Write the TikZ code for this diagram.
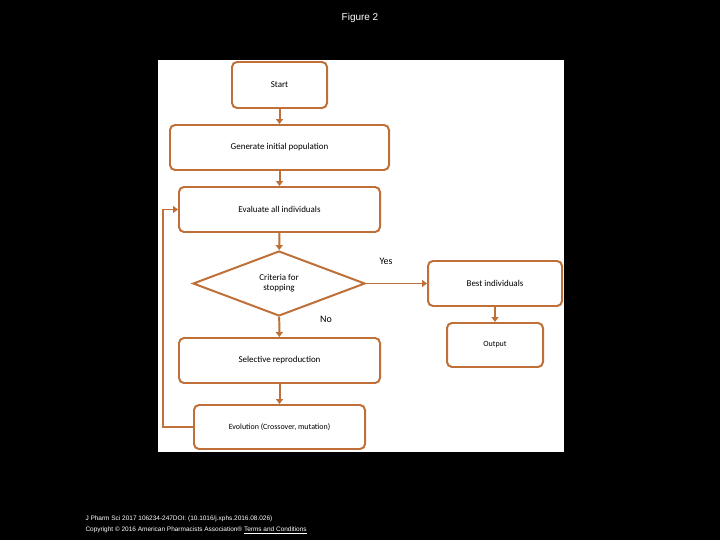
\documentclass[tikz,border=0pt]{standalone}
\usepackage{fontspec}
\setmainfont{Carlito}
\newfontfamily\arialfont{Liberation Sans}
\usetikzlibrary{arrows.meta,positioning,shapes.geometric}
\definecolor{flowline}{RGB}{190,112,56}
\tikzset{
	stage/.style={draw=flowline,line width=2pt,rounded corners=5bp,fill=white,align=center,font=\fontsize{9}{10}\selectfont},
	test/.style={draw=flowline,line width=2pt,diamond,aspect=2.65,fill=white,align=center,inner sep=0pt,font=\fontsize{9}{10}\selectfont},
	link/.style={draw=flowline,line width=2pt,-{Triangle[length=5bp,width=7bp]}},
	caption/.style={font=\arialfont\fontsize{6.5}{7}\selectfont,text=white,anchor=west}
}
\begin{document}
\begin{tikzpicture}[x=1bp,y=-1bp]
	\useasboundingbox[fill=black] (0,0) rectangle (720,540);
	\fill[white] (158,60) rectangle (564,452);
	\node[font=\arialfont\fontsize{10}{12}\selectfont,text=white] (title) at (360,18) {Figure 2};

	% main column
	\node[stage,minimum width=95bp,minimum height=46bp] (start) at (279.5,85) {Start};
	\node[stage,minimum width=219bp,minimum height=45bp] (gen) at (279.5,147.5) {Generate initial population};
	\node[stage,minimum width=201bp,minimum height=45bp] (eval) at (279.5,209.5) {Evaluate all individuals};
	\node[test,minimum width=172bp,minimum height=65bp] (crit) at (279,283.5) {Criteria for\\stopping};
	\node[stage,minimum width=201bp,minimum height=45bp] (sel) at (279.5,360.5) {Selective reproduction};
	\node[stage,minimum width=171bp,minimum height=44bp,font=\fontsize{8}{9}\selectfont] (evo) at (279.5,427) {Evolution (Crossover, mutation)};

	% right column
	\node[stage,minimum width=134bp,minimum height=45bp] (best) at (495,283.5) {Best individuals};
	\node[stage,minimum width=96bp,minimum height=44bp,font=\fontsize{8}{9}\selectfont] (out) at (495,345) {Output};

	\draw[link] (start) -- (gen);
	\draw[link] (gen) -- (eval);
	\draw[link] (eval) -- (crit);
	\draw[link] (crit) -- (sel);
	\draw[link] (sel) -- (evo);
	\draw[link] (crit) -- (best);
	\draw[link] (best) -- (out);
	\coordinate (loop) at (163,427);
	\draw[link,rounded corners=0pt] (evo.west) -- (loop) |- (eval.west);

	\node[font=\fontsize{10}{12}\selectfont] (yes) at (386,261) {Yes};
	\node[font=\fontsize{10}{12}\selectfont] (no) at (326,319) {No};

	\node[caption] (cite) at (82,519) {J Pharm Sci 2017 106234-247DOI: (10.1016/j.xphs.2016.08.026)};
	\node[caption] (copy) at (82,530) {Copyright \textcopyright\ 2016 American Pharmacists Association\textregistered\ \underline{Terms and Conditions}};
\end{tikzpicture}
\end{document}
